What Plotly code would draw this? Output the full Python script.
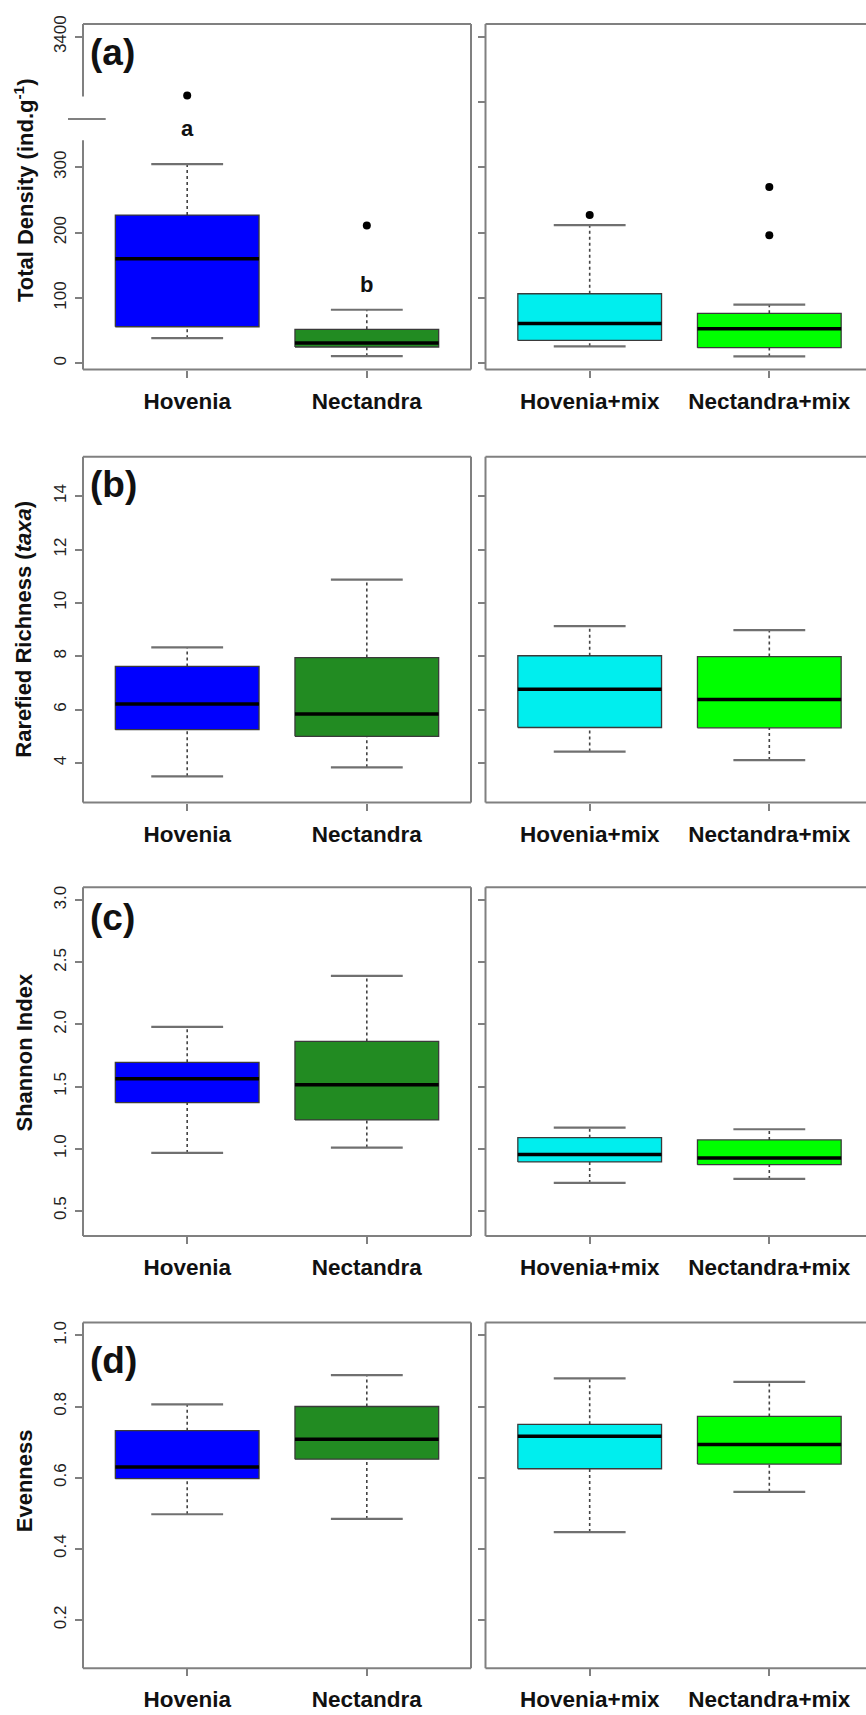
import plotly.graph_objects as go

# ---------------------------------------------------------------
# Data: five-number summaries (lower whisker, Q1, median, Q3,
# upper whisker) and outliers for each treatment and metric
# ---------------------------------------------------------------
single_groups = ["Hovenia", "Nectandra"]
mix_groups = ["Hovenia+mix", "Nectandra+mix"]

single_colors = ["#0000FF", "#228B22"]
mix_colors = ["#00EEEE", "#00FF00"]

# (a) Total density (ind. g-1)
density_single_low = [38.5, 11.0]
density_single_q1 = [56.0, 25.0]
density_single_med = [160.0, 31.0]
density_single_q3 = [227.0, 52.0]
density_single_high = [305.0, 82.0]
density_single_out = [[3310.0], [211.0]]

density_mix_low = [26.0, 10.6]
density_mix_q1 = [35.0, 24.0]
density_mix_med = [61.0, 53.0]
density_mix_q3 = [106.5, 76.6]
density_mix_high = [211.6, 90.0]
density_mix_out = [[227.0], [196.0, 270.0]]

density_letters = ["a", "b"]

# (b) Rarefied richness (taxa)
richness_single_low = [3.50, 3.84]
richness_single_q1 = [5.25, 5.00]
richness_single_med = [6.21, 5.84]
richness_single_q3 = [7.62, 7.95]
richness_single_high = [8.33, 10.87]

richness_mix_low = [4.43, 4.11]
richness_mix_q1 = [5.33, 5.32]
richness_mix_med = [6.76, 6.38]
richness_mix_q3 = [8.02, 7.99]
richness_mix_high = [9.13, 8.98]

# (c) Shannon index
shannon_single_low = [0.965, 1.008]
shannon_single_q1 = [1.370, 1.231]
shannon_single_med = [1.563, 1.514]
shannon_single_q3 = [1.695, 1.863]
shannon_single_high = [1.981, 2.391]

shannon_mix_low = [0.724, 0.756]
shannon_mix_q1 = [0.893, 0.871]
shannon_mix_med = [0.952, 0.925]
shannon_mix_q3 = [1.088, 1.070]
shannon_mix_high = [1.169, 1.156]

# (d) Evenness
evenness_single_low = [0.497, 0.484]
evenness_single_q1 = [0.597, 0.652]
evenness_single_med = [0.630, 0.708]
evenness_single_q3 = [0.732, 0.800]
evenness_single_high = [0.806, 0.888]

evenness_mix_low = [0.447, 0.560]
evenness_mix_q1 = [0.625, 0.638]
evenness_mix_med = [0.716, 0.693]
evenness_mix_q3 = [0.750, 0.772]
evenness_mix_high = [0.879, 0.869]

# y-axis ticks
density_ticks = [0, 100, 200, 300, 3400]
density_ticks_mix = [0, 100, 200, 300, 3300, 3400]
richness_ticks = [4, 6, 8, 10, 12, 14]
shannon_ticks = [0.5, 1.0, 1.5, 2.0, 2.5, 3.0]
evenness_ticks = [0.2, 0.4, 0.6, 0.8, 1.0]

# ---------------------------------------------------------------
# Broken density axis: values above the break are shifted down
# ---------------------------------------------------------------
BREAK_AT = 1000.0
BREAK_SHIFT = 2900.0


def density_axis(v):
    return v - BREAK_SHIFT if v > BREAK_AT else v


def identity(v):
    return v


# ---------------------------------------------------------------
# Page geometry (pixels)
# ---------------------------------------------------------------
W, H = 866, 1715
FONT = "Liberation Sans, Arial, Helvetica, sans-serif"
FRAME = "#808080"


def px(x):
    return x / W


def py(y):
    return 1 - y / H


LEFT_L, LEFT_R = 83.0, 471.0
RIGHT_L = 485.5
UNIT = (LEFT_R - LEFT_L) / 2.16  # pixels per category unit
BOX_W = 0.8
CAP_W = 0.4

rows = [
    dict(top=15.0, bottom=362.5, yrange=[-9.6, 519.6], label="(a)", label_y=44,
         title="Total Density (ind.g<sup>-1</sup>)", title_y=182, tr=density_axis,
         ticks_l=density_ticks, ticks_r=density_ticks_mix,
         single=(density_single_low, density_single_q1, density_single_med,
                 density_single_q3, density_single_high, density_single_out),
         mix=(density_mix_low, density_mix_q1, density_mix_med,
              density_mix_q3, density_mix_high, density_mix_out)),
    dict(top=450.0, bottom=797.7, yrange=[2.52, 15.48], label="(b)", label_y=478,
         title="Rarefied Richness (<i>taxa</i>)", title_y=624, tr=identity,
         ticks_l=richness_ticks, ticks_r=richness_ticks,
         single=(richness_single_low, richness_single_q1, richness_single_med,
                 richness_single_q3, richness_single_high, None),
         mix=(richness_mix_low, richness_mix_q1, richness_mix_med,
              richness_mix_q3, richness_mix_high, None)),
    dict(top=883.0, bottom=1233.5, yrange=[0.296, 3.104], label="(c)", label_y=913,
         title="Shannon Index", title_y=1049, tr=identity,
         ticks_l=shannon_ticks, ticks_r=shannon_ticks,
         single=(shannon_single_low, shannon_single_q1, shannon_single_med,
                 shannon_single_q3, shannon_single_high, None),
         mix=(shannon_mix_low, shannon_mix_q1, shannon_mix_med,
              shannon_mix_q3, shannon_mix_high, None)),
    dict(top=1320.5, bottom=1668.0, yrange=[0.064, 1.036], label="(d)", label_y=1359,
         title="Evenness", title_y=1480, tr=identity,
         ticks_l=evenness_ticks, ticks_r=evenness_ticks,
         single=(evenness_single_low, evenness_single_q1, evenness_single_med,
                 evenness_single_q3, evenness_single_high, None),
         mix=(evenness_mix_low, evenness_mix_q1, evenness_mix_med,
              evenness_mix_q3, evenness_mix_high, None)),
]


def fmt_tick(v):
    if isinstance(v, float):
        return f"{v:.1f}"
    return str(v)


fig = go.Figure()
layout = dict(
    width=W, height=H, margin=dict(l=0, r=0, t=0, b=0),
    paper_bgcolor="white", plot_bgcolor="white", showlegend=False,
    font=dict(family=FONT, color="#111"),
)
shapes = []
annotations = []


def add_boxes(xa, ya, stats, names, colors, tr):
    low, q1, med, q3, high, outs = stats
    for i, name in enumerate(names):
        c = i + 1
        # dashed whiskers
        for a, b in ((q3[i], high[i]), (low[i], q1[i])):
            fig.add_trace(go.Scatter(
                x=[c, c], y=[tr(a), tr(b)], mode="lines", xaxis=xa, yaxis=ya,
                line=dict(color="#444444", width=1.6, dash="3px,3px"),
                hoverinfo="skip"))
        # whisker caps
        for v in (low[i], high[i]):
            fig.add_trace(go.Scatter(
                x=[c - CAP_W / 2, c + CAP_W / 2], y=[tr(v), tr(v)], mode="lines",
                xaxis=xa, yaxis=ya, line=dict(color="#707070", width=2.2),
                hoverinfo="skip"))
        # box body
        x0, x1 = c - BOX_W / 2, c + BOX_W / 2
        fig.add_trace(go.Scatter(
            x=[x0, x1, x1, x0, x0],
            y=[tr(q1[i]), tr(q1[i]), tr(q3[i]), tr(q3[i]), tr(q1[i])],
            mode="lines", fill="toself", fillcolor=colors[i],
            line=dict(color="#3a3a3a", width=1.3), xaxis=xa, yaxis=ya,
            name=name, hoverinfo="skip"))
        # median
        fig.add_trace(go.Scatter(
            x=[x0, x1], y=[tr(med[i]), tr(med[i])], mode="lines",
            xaxis=xa, yaxis=ya, line=dict(color="black", width=3.5),
            hoverinfo="skip"))
        # outliers
        if outs is not None and outs[i]:
            fig.add_trace(go.Scatter(
                x=[c] * len(outs[i]), y=[tr(v) for v in outs[i]], mode="markers",
                xaxis=xa, yaxis=ya, marker=dict(color="black", size=8),
                hoverinfo="skip"))


for r, row in enumerate(rows):
    top, bottom = row["top"], row["bottom"]
    tr = row["tr"]
    for s in range(2):
        k = 2 * r + s + 1
        xa = "x" if k == 1 else f"x{k}"
        ya = "y" if k == 1 else f"y{k}"
        xkey = "xaxis" if k == 1 else f"xaxis{k}"
        ykey = "yaxis" if k == 1 else f"yaxis{k}"
        if s == 0:
            xl, xr = LEFT_L, LEFT_R
            xrange = [0.42, 2.58]
            names, colors, stats = single_groups, single_colors, row["single"]
            ticks = row["ticks_l"]
        else:
            xl, xr = RIGHT_L, W
            xrange = [0.42, 0.42 + (W - RIGHT_L) / UNIT]
            names, colors, stats = mix_groups, mix_colors, row["mix"]
            ticks = row["ticks_r"]

        layout[xkey] = dict(
            domain=[px(xl), px(xr)], range=xrange, anchor=ya,
            showgrid=False, zeroline=False, showline=False,
            tickmode="array", tickvals=[1, 2], ticktext=names,
            ticks="outside", ticklen=7, tickwidth=1.5, tickcolor=FRAME,
            tickfont=dict(family=FONT, size=22.5, color="#111", weight="bold"),
            ticklabelstandoff=4, fixedrange=True,
        )
        layout[ykey] = dict(
            domain=[py(bottom), py(top)], range=row["yrange"], anchor=xa,
            showgrid=False, zeroline=False, showline=False,
            tickmode="array", tickvals=[tr(v) for v in ticks],
            ticktext=[fmt_tick(v) for v in ticks],
            showticklabels=(s == 0),
            ticks="outside", ticklen=7, tickwidth=1.5, tickcolor=FRAME,
            tickangle=-90, ticklabelstandoff=2,
            tickfont=dict(family=FONT, size=17, color="#222"), fixedrange=True,
        )

        add_boxes(xa, ya, stats, names, colors, tr)

        # panel frame
        line = dict(color=FRAME, width=2)
        shapes.append(dict(type="line", xref="paper", yref="paper",
                           x0=px(xl), x1=px(xr), y0=py(top), y1=py(top), line=line))
        shapes.append(dict(type="line", xref="paper", yref="paper",
                           x0=px(xl), x1=px(xr), y0=py(bottom), y1=py(bottom), line=line))
        if s == 0:
            shapes.append(dict(type="line", xref="paper", yref="paper",
                               x0=px(xr), x1=px(xr), y0=py(top), y1=py(bottom), line=line))
        if s == 0 and r == 0:
            # broken left axis with a short horizontal break mark
            shapes.append(dict(type="line", xref="paper", yref="paper",
                               x0=px(xl), x1=px(xl), y0=py(top), y1=py(88), line=line))
            shapes.append(dict(type="line", xref="paper", yref="paper",
                               x0=px(xl), x1=px(xl), y0=py(132), y1=py(bottom), line=line))
            shapes.append(dict(type="line", xref="paper", yref="paper",
                               x0=px(68), x1=px(105.7), y0=py(110.7), y1=py(110.7),
                               line=line))
        else:
            shapes.append(dict(type="line", xref="paper", yref="paper",
                               x0=px(xl), x1=px(xl), y0=py(top), y1=py(bottom), line=line))

    # panel label
    annotations.append(dict(
        x=px(88), y=py(row["label_y"]), xref="paper", yref="paper",
        xanchor="left", yanchor="middle", showarrow=False, text=row["label"],
        font=dict(family=FONT, size=37, color="#111", weight="bold")))
    # y-axis title
    annotations.append(dict(
        x=px(24), y=py(row["title_y"]), xref="paper", yref="paper",
        xanchor="center", yanchor="middle", showarrow=False, textangle=-90,
        text=row["title"],
        font=dict(family=FONT, size=22, color="#111", weight="bold")))

# significance letters in panel (a)
letter_y = [360, 120]
for i, t in enumerate(density_letters):
    annotations.append(dict(
        x=i + 1, y=letter_y[i], xref="x", yref="y", showarrow=False, text=t,
        font=dict(family=FONT, size=22, color="#111", weight="bold")))

layout["shapes"] = shapes
layout["annotations"] = annotations
fig.update_layout(**layout)
fig.write_html("out.html", config={"displayModeBar": False})
